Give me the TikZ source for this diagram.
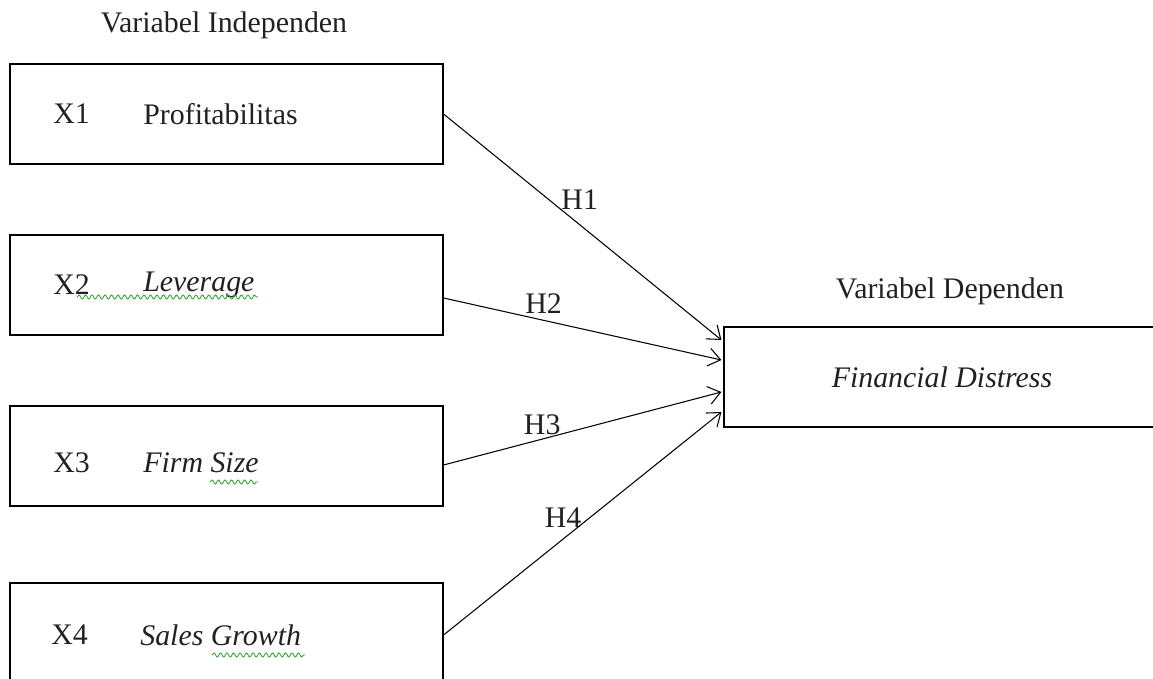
\documentclass[tikz,border=0pt]{standalone}
\usepackage{fontspec}
\setmainfont{Liberation Serif}
\usepackage{tikz}
\usetikzlibrary{arrows.meta, calc, decorations.pathmorphing}
\tikzstyle{box} = [draw,rectangle,line width=.7pt,minimum width=8.66cm,minimum height=2cm,inner sep=0pt]
\tikzstyle{lbl} = [anchor=west,inner sep=0pt,font=\fontsize{17}{20}\selectfont]
\tikzstyle{hyp} = [draw,line width=.6pt,-{Straight Barb[length=2.4mm,width=3.6mm]}]
\tikzstyle{squig} = [draw=green!55!black!80,line width=.5pt,decorate,decoration={snake,amplitude=.4mm,segment length=1.3mm}]
\definecolor{ink}{rgb}{0.13, 0.13, 0.13}

\begin{document}
\begin{tikzpicture}[x=0.02cm,y=-0.02cm,every node/.style={text=ink,font=\fontsize{17}{20}\selectfont}]
		\useasboundingbox (0,0) rectangle (1153,679);
		\clip (0,0) rectangle (1153,679);
		\node [font=\fontsize{17}{20}\selectfont](indep) at (224,25){Variabel Independen};
		\node [box](x1) at (226.5,114){};
		\node [box](x2) at (226.5,285){};
		\node [box](x3) at (226.5,456){};
		\node [box](x4) at (226.5,633){};
		\node [box,minimum width=8.72cm](dep) at (942,377){\textit{Financial Distress}};
		\node (depl) at (950,291){Variabel Dependen};
		
		\node [lbl](n1) at (53,114){X1};
		\node [lbl](v1) at (143,114){Profitabilitas};
		\node [lbl](n2) at (53,285){X2};
		\node [lbl](v2) at (143,285){\textit{Leverage}};
		\node [lbl](n3) at (53,463){X3};
		\node [lbl](v3) at (143,463){\textit{Firm Size}};
		\node [lbl](n4) at (51,635){X4};
		\node [lbl](v4) at (140,635){\textit{Sales Growth}};
		
		% spelling marks
		\path[squig] (77,297) -- (258,297);
		\path[squig] (210,482) -- (258,482);
		\path[squig] (212,655) -- (305,655);
		
		\draw[hyp](x1.east)--node[pos=.49,yshift=.5cm]{H1}($(dep.west)+(-2,-37)$);
		\draw[hyp]($(x2.east)+(0,13)$)--node[pos=.36,yshift=.34cm]{H2}($(dep.west)+(-2,-17)$);
		\draw[hyp]($(x3.east)+(0,9)$)--node[pos=.355,yshift=.28cm]{H3}($(dep.west)+(-2,15)$);
		\draw[hyp]($(x4.east)+(0,2)$)--node[pos=.43,yshift=.42cm]{H4}($(dep.west)+(-2,35)$);
		\end{tikzpicture}
\end{document}
